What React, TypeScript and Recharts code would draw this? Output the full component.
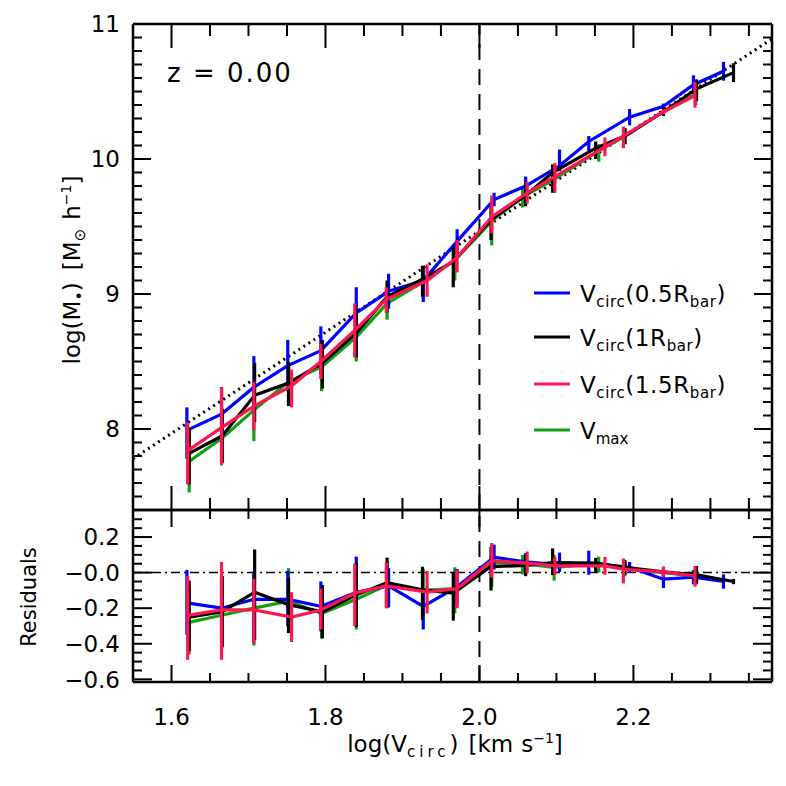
import React from 'react';
import { LineChart, Line, XAxis, YAxis, ErrorBar, ReferenceLine } from 'recharts';

// ---------- tick labels ----------
const xMajorLabels = [1.6, 1.8, 2.0, 2.2];
const yTopMajorLabels = [8, 9, 10, 11];
const yResMajorLabels = [0.2, 0.0, -0.2, -0.4, -0.6];

// ---------- Vcirc(0.5 Rbar) : blue ----------
const blueX = [1.620, 1.665, 1.707, 1.751, 1.794, 1.840, 1.882, 1.927, 1.971, 2.019, 2.060, 2.104, 2.142, 2.195, 2.239, 2.278, 2.317];
const blueY = [7.99, 8.11, 8.31, 8.47, 8.58, 8.86, 9.02, 9.10, 9.39, 9.70, 9.80, 9.95, 10.13, 10.31, 10.39, 10.55, 10.65];
const blueLo = [0.21, 0.20, 0.20, 0.19, 0.18, 0.17, 0.13, 0.16, 0.09, 0.05, 0.07, 0.04, 0.07, 0.06, 0.02, 0.07, 0.07];
const blueHi = [0.17, 0.20, 0.23, 0.19, 0.18, 0.19, 0.13, 0.10, 0.09, 0.05, 0.07, 0.12, 0.04, 0.06, 0.02, 0.07, 0.07];
const blueRes = [-0.17, -0.20, -0.15, -0.15, -0.19, -0.11, -0.075, -0.19, -0.08, 0.087, 0.06, 0.043, 0.053, 0.03, -0.037, -0.026, -0.05];
const blueResLo = [0.18, 0.17, 0.23, 0.15, 0.14, 0.19, 0.12, 0.13, 0.10, 0.07, 0.05, 0.04, 0.065, 0.03, 0.05, 0.04, 0.04];
const blueResHi = [0.185, 0.18, 0.15, 0.16, 0.14, 0.20, 0.10, 0.09, 0.10, 0.07, 0.05, 0.07, 0.07, 0.03, 0.05, 0.04, 0.04];

// ---------- Vcirc(1 Rbar) : black ----------
const blackX = [1.623, 1.666, 1.708, 1.752, 1.796, 1.840, 1.880, 1.926, 1.966, 2.015, 2.060, 2.095, 2.151, 2.189, 2.239, 2.282, 2.330];
const blackY = [7.82, 7.95, 8.25, 8.34, 8.49, 8.71, 8.98, 9.11, 9.24, 9.55, 9.73, 9.90, 10.08, 10.17, 10.35, 10.52, 10.64];
const blackLo = [0.23, 0.20, 0.20, 0.17, 0.19, 0.18, 0.12, 0.13, 0.19, 0.15, 0.08, 0.15, 0.08, 0.06, 0.03, 0.09, 0.07];
const blackHi = [0.19, 0.20, 0.24, 0.15, 0.17, 0.18, 0.12, 0.10, 0.11, 0.10, 0.08, 0.06, 0.05, 0.06, 0.03, 0.07, 0.07];
const blackRes = [-0.25, -0.22, -0.11, -0.18, -0.22, -0.125, -0.056, -0.097, -0.115, 0.034, 0.04, 0.056, 0.053, 0.03, 0.004, -0.013, -0.05];
const blackResLo = [0.19, 0.20, 0.27, 0.16, 0.15, 0.18, 0.14, 0.17, 0.155, 0.135, 0.06, 0.07, 0.05, 0.04, 0.02, 0.05, 0.015];
const blackResHi = [0.205, 0.20, 0.24, 0.15, 0.15, 0.18, 0.14, 0.13, 0.12, 0.11, 0.06, 0.08, 0.03, 0.04, 0.02, 0.05, 0.015];

// ---------- Vcirc(1.5 Rbar) : pink ----------
const pinkX = [1.621, 1.665, 1.707, 1.756, 1.794, 1.838, 1.879, 1.932, 1.971, 2.016, 2.062, 2.098, 2.163, 2.187, 2.239, 2.280];
const pinkY = [7.84, 8.01, 8.17, 8.32, 8.50, 8.73, 8.96, 9.10, 9.27, 9.57, 9.75, 9.87, 10.09, 10.17, 10.35, 10.47];
const pinkLo = [0.25, 0.27, 0.18, 0.16, 0.13, 0.20, 0.10, 0.12, 0.11, 0.12, 0.08, 0.12, 0.07, 0.09, 0.02, 0.09];
const pinkHi = [0.21, 0.30, 0.18, 0.12, 0.13, 0.20, 0.09, 0.12, 0.13, 0.16, 0.08, 0.10, 0.07, 0.07, 0.02, 0.10];
const pinkRes = [-0.24, -0.21, -0.21, -0.25, -0.21, -0.115, -0.075, -0.11, -0.09, 0.067, 0.053, 0.038, 0.038, 0.019, 0.004, -0.019];
const pinkResLo = [0.25, 0.28, 0.19, 0.14, 0.11, 0.185, 0.125, 0.12, 0.11, 0.095, 0.055, 0.05, 0.05, 0.08, 0.03, 0.06];
const pinkResHi = [0.22, 0.27, 0.175, 0.14, 0.12, 0.165, 0.13, 0.12, 0.105, 0.09, 0.065, 0.05, 0.05, 0.06, 0.03, 0.055];

// ---------- Vmax : green ----------
const greenX = [1.623, 1.665, 1.707, 1.752, 1.795, 1.840, 1.880, 1.927, 1.968, 2.016, 2.056, 2.097, 2.155, 2.189, 2.239, 2.281];
const greenY = [7.76, 7.93, 8.14, 8.35, 8.46, 8.68, 8.93, 9.09, 9.25, 9.54, 9.72, 9.85, 10.06, 10.17, 10.35, 10.48];
const greenLo = [0.23, 0.20, 0.23, 0.18, 0.18, 0.18, 0.12, 0.12, 0.15, 0.18, 0.08, 0.10, 0.08, 0.06, 0.03, 0.08];
const greenHi = [0.22, 0.20, 0.20, 0.15, 0.17, 0.18, 0.12, 0.10, 0.12, 0.10, 0.08, 0.08, 0.05, 0.06, 0.03, 0.08];
const greenRes = [-0.28, -0.24, -0.20, -0.16, -0.23, -0.15, -0.07, -0.10, -0.09, 0.056, 0.05, 0.03, 0.05, 0.02, 0.0, -0.02];
const greenResLo = [0.18, 0.19, 0.21, 0.17, 0.14, 0.17, 0.13, 0.15, 0.14, 0.135, 0.06, 0.075, 0.05, 0.04, 0.02, 0.05];
const greenResHi = [0.20, 0.20, 0.19, 0.185, 0.14, 0.17, 0.13, 0.12, 0.12, 0.11, 0.05, 0.07, 0.04, 0.04, 0.02, 0.05];

// ---------- dotted reference relation ----------
const fitX = [1.55, 2.38];
const fitY = [7.78, 10.89];

// ---------- helpers ----------
const FONT = 'DejaVu Sans';
const BLUE = '#0000ff';
const BLACK = '#000000';
const PINK = '#ff1650';
const GREEN = '#12a012';

const rows = (xs: number[], ys: number[], lo: number[], hi: number[]) =>
  xs.map((x, i) => ({ x, y: ys[i], err: [lo[i], hi[i]] }));

const stepTicks = (start: number, stop: number, step: number) => {
  const out: number[] = [];
  const n = Math.round((stop - start) / step);
  for (let i = 0; i <= n; i++) out.push(Math.round((start + i * step) * 1000) / 1000);
  return out;
};

const xTicks = stepTicks(1.6, 2.35, 0.05);
const yTopTicks = stepTicks(7.5, 11.0, 0.1);
const yResTicks = stepTicks(-0.6, 0.3, 0.05);

const isMajor = (v: number, labels: number[]) => labels.some((l) => Math.abs(l - v) < 1e-6);

function Tick(p: any) {
  const { x, y, payload, side, labels, majorLen, minorLen, showLabel, fmt } = p;
  const v = payload.value;
  const major = isMajor(v, labels);
  const L = major ? majorLen : minorLen;
  let x2 = x;
  let y2 = y;
  if (side === 'bottom') y2 = y - L;
  else if (side === 'top') y2 = y + L;
  else if (side === 'left') x2 = x + L;
  else x2 = x - L;
  return (
    <g>
      <line x1={x} y1={y} x2={x2} y2={y2} stroke="#000" strokeWidth={2} />
      {showLabel && major && side === 'bottom' && (
        <text x={x} y={y + 43} textAnchor="middle" fontFamily={FONT} fontSize={23} fill="#000">
          {fmt(v)}
        </text>
      )}
      {showLabel && major && side === 'left' && (
        <text x={x - 13} y={y} dy="0.36em" textAnchor="end" fontFamily={FONT} fontSize={23} fill="#000">
          {fmt(v)}
        </text>
      )}
    </g>
  );
}

const fmtX = (v: number) => v.toFixed(1);
const fmtTop = (v: number) => String(Math.round(v));
const fmtRes = (v: number) => (v <= 0 ? '\u2212' : '') + Math.abs(v).toFixed(1);

const axisLine = { stroke: '#000', strokeWidth: 2.5 };

const XDOM: [number, number] = [1.55, 2.38];
const YTOP: [number, number] = [7.4, 11.0];
const YRES: [number, number] = [-0.615, 0.352];

export default function App() {
  const blueTop = rows(blueX, blueY, blueLo, blueHi);
  const blackTop = rows(blackX, blackY, blackLo, blackHi);
  const pinkTop = rows(pinkX, pinkY, pinkLo, pinkHi);
  const greenTop = rows(greenX, greenY, greenLo, greenHi);
  const blueBot = rows(blueX, blueRes, blueResLo, blueResHi);
  const blackBot = rows(blackX, blackRes, blackResLo, blackResHi);
  const pinkBot = rows(pinkX, pinkRes, pinkResLo, pinkResHi);
  const greenBot = rows(greenX, greenRes, greenResLo, greenResHi);
  const fit = fitX.map((x, i) => ({ x, y: fitY[i] }));

  const series = (top: boolean) => [
    { d: top ? greenTop : greenBot, c: GREEN, k: 'g' },
    { d: top ? blueTop : blueBot, c: BLUE, k: 'b' },
    { d: top ? blackTop : blackBot, c: BLACK, k: 'k' },
    { d: top ? pinkTop : pinkBot, c: PINK, k: 'p' },
  ];

  const renderAxes = (yTicks: number[], yLabels: number[], yDomain: [number, number], xLen: [number, number], yLen: [number, number], xLabel: boolean, yFmt: (v: number) => string) => [
    <XAxis key="xb" xAxisId="b" dataKey="x" orientation="bottom" type="number" domain={XDOM} allowDataOverflow ticks={xTicks} interval={0}
      height={1} tickSize={0} tickMargin={0} tickLine={false} axisLine={axisLine}
      tick={<Tick side="bottom" labels={xMajorLabels} majorLen={xLen[0]} minorLen={xLen[1]} showLabel={xLabel} fmt={fmtX} />} />,
    <XAxis key="xt" xAxisId="t" dataKey="x" orientation="top" type="number" domain={XDOM} allowDataOverflow ticks={xTicks} interval={0}
      height={1} tickSize={0} tickMargin={0} tickLine={false} axisLine={axisLine}
      tick={<Tick side="top" labels={xMajorLabels} majorLen={xLen[0]} minorLen={xLen[1]} showLabel={false} fmt={fmtX} />} />,
    <YAxis key="yl" yAxisId="l" orientation="left" type="number" domain={yDomain} allowDataOverflow ticks={yTicks} interval={0}
      width={1} tickSize={0} tickMargin={0} tickLine={false} axisLine={axisLine}
      tick={<Tick side="left" labels={yLabels} majorLen={yLen[0]} minorLen={yLen[1]} showLabel fmt={yFmt} />} />,
    <YAxis key="yr" yAxisId="r" orientation="right" type="number" domain={yDomain} allowDataOverflow ticks={yTicks} interval={0}
      width={1} tickSize={0} tickMargin={0} tickLine={false} axisLine={axisLine}
      tick={<Tick side="right" labels={yLabels} majorLen={yLen[0]} minorLen={yLen[1]} showLabel={false} fmt={yFmt} />} />,
  ];

  const renderSeries = (top: boolean) =>
    series(top).map((s) => (
      <Line key={s.k} xAxisId="b" yAxisId="l" data={s.d} dataKey="y" type="linear" stroke={s.c} strokeWidth={3.2}
        dot={false} isAnimationActive={false}>
        <ErrorBar dataKey="err" direction="y" width={0} stroke={s.c} strokeWidth={3.2} isAnimationActive={false} />
      </Line>
    ));

  const abs: React.CSSProperties = { position: 'absolute', top: 0, left: 0 };

  return (
    <div style={{ position: 'absolute', top: 0, left: 0, width: 786, height: 786, background: '#fff' }}>
      <div style={abs}>
        <LineChart width={786} height={786} margin={{ top: 23, right: 13, bottom: 275, left: 132 }}>
          {renderAxes(yTopTicks, yTopMajorLabels, YTOP, [24, 12], [18, 9], false, fmtTop)}
          <ReferenceLine xAxisId="b" yAxisId="l" x={2.0} stroke="#000" strokeWidth={2} strokeDasharray="16 9" />
          <Line xAxisId="b" yAxisId="l" data={fit} dataKey="y" type="linear" stroke="#000" strokeWidth={3}
            strokeDasharray="2 4" dot={false} isAnimationActive={false} />
          {renderSeries(true)}
        </LineChart>
      </div>
      <div style={abs}>
        <LineChart width={786} height={786} margin={{ top: 509, right: 13, bottom: 103, left: 132 }}>
          {renderAxes(yResTicks, yResMajorLabels, YRES, [17, 9], [19, 9], true, fmtRes)}
          <ReferenceLine xAxisId="b" yAxisId="l" x={2.0} stroke="#000" strokeWidth={2} strokeDasharray="16 9" />
          <ReferenceLine xAxisId="b" yAxisId="l" y={0} stroke="#000" strokeWidth={1.5} strokeDasharray="9 4 2 4" />
          {renderSeries(false)}
        </LineChart>
      </div>
      <svg style={{ ...abs, pointerEvents: 'none' }} width={786} height={786}>
        <g fontFamily={FONT} fill="#000">
          <text x={168} y={82} fontSize={26}>
            <tspan x={167}>z</tspan>
            <tspan x={193}>=</tspan>
            <tspan x={227} letterSpacing={2}>0.00</tspan>
          </text>

          <text transform="translate(80,270) rotate(-90)" textAnchor="middle" fontSize={23}>
            log(M<tspan fontSize={16} dy={5}>•</tspan><tspan dy={-5}>)</tspan>
            <tspan dx={12}>[M</tspan><tspan fontSize={15} dy={5}>⊙</tspan><tspan dy={-5} dx={9}>h</tspan>
            <tspan fontSize={14} dy={-9}>−1</tspan><tspan dy={9}>]</tspan>
          </text>

          <text transform="translate(36,597) rotate(-90)" textAnchor="middle" fontSize={21}>Residuals</text>

          <text x={455} y={752} textAnchor="middle" fontSize={23}>
            log(V<tspan fontSize={15} dy={5} letterSpacing={4}>circ</tspan><tspan dy={-5}>)</tspan>
            <tspan dx={10}>[km</tspan><tspan dx={8}>s</tspan>
            <tspan fontSize={14} dy={-9}>−1</tspan><tspan dy={9}>]</tspan>
          </text>

          {[
            { c: BLUE, y: 293, label: '(0.5R' },
            { c: BLACK, y: 337, label: '(1R' },
            { c: PINK, y: 384, label: '(1.5R' },
          ].map((e) => (
            <g key={e.y}>
              <line x1={534} x2={570} y1={e.y} y2={e.y} stroke={e.c} strokeWidth={3} />
              <text x={580} y={e.y + 9} fontSize={23} letterSpacing={0.6}>
                V<tspan fontSize={15} dy={5}>circ</tspan><tspan dy={-5}>{e.label}</tspan>
                <tspan fontSize={15} dy={5}>bar</tspan><tspan dy={-5}>)</tspan>
              </text>
            </g>
          ))}
          <line x1={534} x2={570} y1={430} y2={430} stroke={GREEN} strokeWidth={3} />
          <text x={580} y={439} fontSize={23}>
            V<tspan fontSize={15} dy={5}>max</tspan>
          </text>
        </g>
      </svg>
    </div>
  );
}
